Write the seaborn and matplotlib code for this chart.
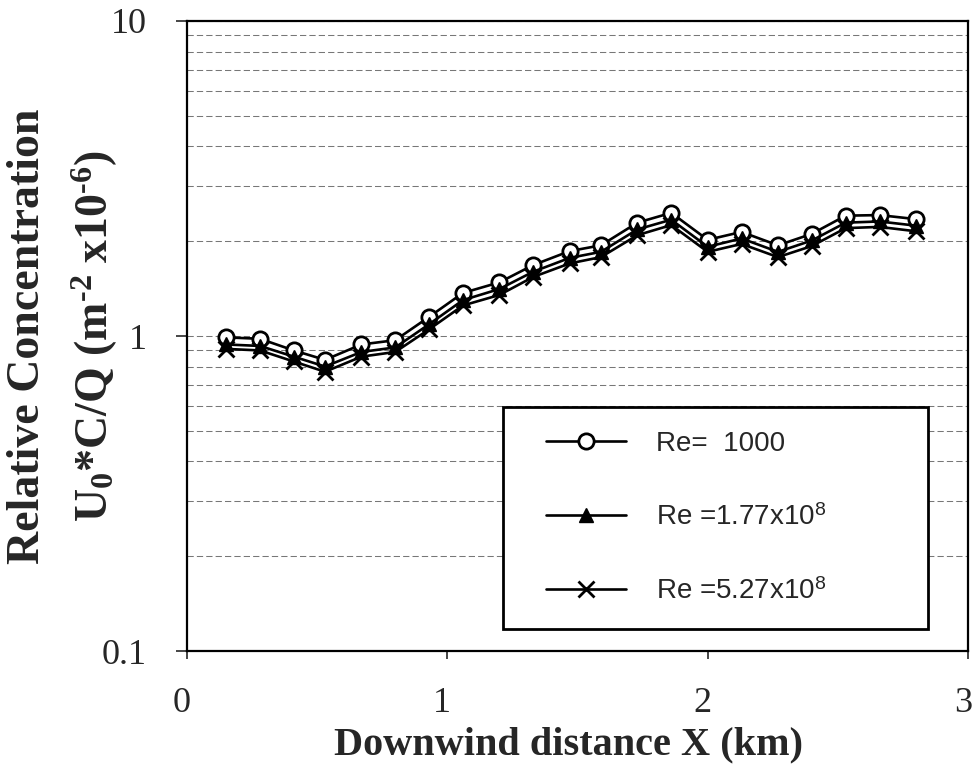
import matplotlib
matplotlib.use("Agg")
import numpy as np
import pandas as pd
import matplotlib.pyplot as plt
import matplotlib.transforms as mtransforms
import seaborn as sns
from matplotlib.ticker import FixedLocator, FixedFormatter, LogLocator, NullFormatter
from matplotlib.font_manager import FontProperties
from matplotlib.lines import Line2D
from matplotlib.legend_handler import HandlerLine2D

# Downwind receptor positions (km)
distance_km = [0.15, 0.28, 0.41, 0.53, 0.67, 0.80, 0.93, 1.06, 1.20, 1.33, 1.47,
               1.59, 1.73, 1.86, 2.00, 2.13, 2.27, 2.40, 2.53, 2.66, 2.80]

# Relative concentration U0*C/Q (m^-2 x10^-6) for each Reynolds number
conc_re_1000 = [0.99, 0.98, 0.90, 0.84, 0.94, 0.97, 1.15, 1.37, 1.48, 1.68, 1.86,
                1.94, 2.29, 2.46, 2.02, 2.14, 1.94, 2.11, 2.41, 2.42, 2.35]
conc_re_177e8 = [0.94, 0.93, 0.86, 0.80, 0.89, 0.92, 1.09, 1.30, 1.41, 1.60, 1.77,
                 1.85, 2.18, 2.34, 1.92, 2.04, 1.85, 2.01, 2.29, 2.31, 2.24]
conc_re_527e8 = [0.91, 0.90, 0.83, 0.77, 0.86, 0.89, 1.05, 1.25, 1.35, 1.54, 1.70,
                 1.78, 2.09, 2.25, 1.85, 1.96, 1.78, 1.93, 2.20, 2.22, 2.15]

series_labels = [r"Re=  1000",
                 r"Re =1.77x10$^{\mathsf{8}}$",
                 r"Re =5.27x10$^{\mathsf{8}}$"]

x_ticks = [0, 1, 2, 3]
x_tick_labels = ["0", "1", "2", "3"]
y_ticks = [0.1, 1, 10]
y_tick_labels = ["0.1", "1", "10"]

sns.set_style("ticks")
plt.rcParams["font.family"] = ["Liberation Serif", "DejaVu Serif"]
plt.rcParams["mathtext.fontset"] = "custom"
plt.rcParams["mathtext.rm"] = "Liberation Serif:bold"
plt.rcParams["mathtext.bf"] = "Liberation Serif:bold"
plt.rcParams["mathtext.it"] = "Liberation Serif:bold:italic"
plt.rcParams["mathtext.sf"] = "Liberation Sans"

df = pd.DataFrame({
    "distance": distance_km * 3,
    "conc": conc_re_1000 + conc_re_177e8 + conc_re_527e8,
    "series": [series_labels[0]] * len(distance_km)
              + [series_labels[1]] * len(distance_km)
              + [series_labels[2]] * len(distance_km),
})

fig = plt.figure(figsize=(9.72, 7.66), dpi=100)
ax = fig.add_axes([0.1924, 0.1501, 0.8035, 0.8225])

marker_styles = [
    dict(marker="o", markersize=11, markerfacecolor="white", markeredgewidth=2.0),
    dict(marker="^", markersize=10, markerfacecolor="black", markeredgewidth=1.0),
    dict(marker="x", markersize=11, markeredgewidth=2.0),
]
for label, style in zip(series_labels, marker_styles):
    sub = df[df["series"] == label]
    sns.lineplot(data=sub, x="distance", y="conc", ax=ax, color="black",
                 linewidth=1.9, markeredgecolor="black", label=label, **style)

ax.set_yscale("log")
ax.set_xlim(0, 3)
ax.set_ylim(0.1, 10)

ax.xaxis.set_major_locator(FixedLocator(x_ticks))
ax.xaxis.set_major_formatter(FixedFormatter(x_tick_labels))
ax.yaxis.set_major_locator(FixedLocator(y_ticks))
ax.yaxis.set_major_formatter(FixedFormatter(y_tick_labels))
ax.yaxis.set_minor_locator(LogLocator(base=10, subs=np.arange(2, 10)))
ax.yaxis.set_minor_formatter(NullFormatter())

ax.tick_params(axis="y", which="major", direction="out", length=8, width=1.2,
               pad=21, labelsize=26)
ax.tick_params(axis="y", which="minor", length=0)
ax.tick_params(axis="x", which="major", direction="out", length=6, width=1.2,
               pad=20, labelsize=26)

# nudge the x tick labels a little to the left so the last one stays inside
shift = mtransforms.ScaledTranslation(-5 / 100, 0, fig.dpi_scale_trans)
for lbl in ax.get_xticklabels():
    lbl.set_transform(lbl.get_transform() + shift)

ax.yaxis.grid(True, which="both", color="#777777", linestyle=(0, (6, 3)),
              linewidth=0.75)
ax.xaxis.grid(False)
for spine in ax.spines.values():
    spine.set_visible(True)
    spine.set_color("black")
    spine.set_linewidth(1.6)

ax.set_xlabel("")
ax.set_ylabel("")

leg = ax.legend(loc="upper left", bbox_to_anchor=(0.4046, 0.046, 0.544, 0.341),
                mode="expand", borderaxespad=0, frameon=True, fancybox=False,
                edgecolor="black", framealpha=1.0,
                prop=FontProperties(family="Liberation Sans", size=20),
                handlelength=3.56, handletextpad=1.1, labelspacing=1.72,
                borderpad=0.85,
                handler_map={Line2D: HandlerLine2D(xpad=0.68)})
leg.get_frame().set_linewidth(2.0)

fig.text(28 / 972, 1 - 336 / 766, "Relative Concentration", rotation=90,
         ha="center", va="center", fontsize=33, fontweight="bold")
fig.text(95 / 972, 1 - 336 / 766,
         r"U$_{\mathbf{0}}$*C/Q (m$^{\text{-2}}$ x10$^{\text{-6}}$)",
         rotation=90, ha="center", va="center", fontsize=33, fontweight="bold")
fig.text(568 / 972, 1 - 745 / 766, "Downwind distance X (km)",
         ha="center", va="center", fontsize=29, fontweight="bold")

fig.savefig("out.png", dpi=100, facecolor="white")
